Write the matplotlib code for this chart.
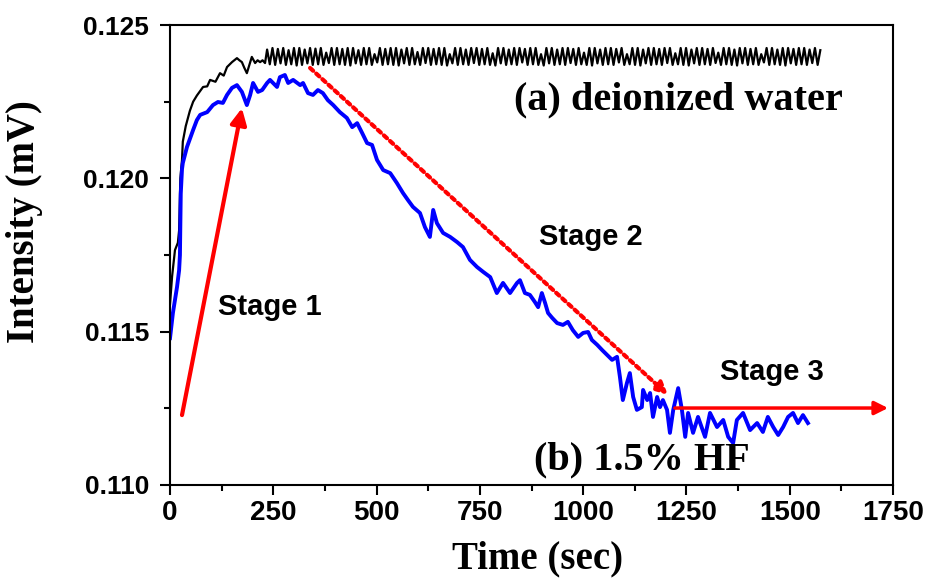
import numpy as np
import matplotlib
matplotlib.use("Agg")
import matplotlib.pyplot as plt
from matplotlib.ticker import MultipleLocator, FormatStrFormatter

# (b) 1.5% HF
blue_t = [0, 7, 17, 22, 24, 26, 29, 31, 41, 56, 65, 73, 90, 104, 116, 128, 138, 150, 162, 174,
          186, 194, 201, 213, 223, 235, 242, 259, 266, 278, 286, 298, 315, 322, 334, 346, 358, 370, 382, 395,
          411, 428, 441, 453, 465, 477, 489, 501, 516, 533, 549, 564, 576, 588, 605, 617, 629, 637, 646, 661,
          678, 695, 709, 726, 743, 758, 775, 791, 806, 823, 840, 847, 859, 871, 883, 891, 900, 908, 915, 925,
          937, 951, 963, 975, 988, 1000, 1012, 1021, 1034, 1046, 1058, 1070, 1082, 1089, 1096, 1106, 1113, 1121, 1130, 1142,
          1145, 1155, 1162, 1169, 1179, 1186, 1193, 1203, 1210, 1218, 1230, 1239, 1247, 1254, 1266, 1278, 1295, 1307, 1324, 1339,
          1351, 1363, 1372, 1387, 1404, 1421, 1435, 1447, 1460, 1472, 1484, 1496, 1508, 1520, 1532, 1544]
blue_v = [0.11479, 0.11561, 0.11646, 0.11700, 0.11750, 0.11950, 0.12030, 0.12050, 0.12102, 0.12158,
          0.12190, 0.12207, 0.12216, 0.12239, 0.12249, 0.12246, 0.12272, 0.12295, 0.12304, 0.12282,
          0.12239, 0.12272, 0.12311, 0.12282, 0.12288, 0.12311, 0.12321, 0.12298, 0.12330, 0.12337,
          0.12311, 0.12321, 0.12304, 0.12311, 0.12278, 0.12272, 0.12288, 0.12278, 0.12255, 0.12239,
          0.12216, 0.12197, 0.12167, 0.12180, 0.12148, 0.12115, 0.12109, 0.12060, 0.12027, 0.12017,
          0.11985, 0.11952, 0.11929, 0.11907, 0.11887, 0.11841, 0.11809, 0.11897, 0.11854, 0.11822,
          0.11809, 0.11792, 0.11776, 0.11734, 0.11711, 0.11695, 0.11678, 0.11626, 0.11659, 0.11626,
          0.11659, 0.11668, 0.11626, 0.11620, 0.11597, 0.11580, 0.11626, 0.11593, 0.11561, 0.11545,
          0.11528, 0.11522, 0.11532, 0.11505, 0.11483, 0.11496, 0.11499, 0.11473, 0.11457, 0.11440,
          0.11424, 0.11408, 0.11418, 0.11352, 0.11277, 0.11333, 0.11365, 0.11287, 0.11245, 0.11254,
          0.11310, 0.11277, 0.11300, 0.11222, 0.11287, 0.11254, 0.11277, 0.11245, 0.11170, 0.11245,
          0.11316, 0.11245, 0.11157, 0.11235, 0.11170, 0.11222, 0.11157, 0.11235, 0.11189, 0.11212,
          0.11157, 0.11137, 0.11212, 0.11235, 0.11179, 0.11202, 0.11173, 0.11222, 0.11189, 0.11163,
          0.11189, 0.11222, 0.11235, 0.11202, 0.11228, 0.11202]

# (a) deionized water, rising part
black_t = [0, 5, 12, 19, 22, 25, 29, 31, 38, 48, 56, 65, 73, 80, 90, 97, 110, 121, 130, 138,
           150, 162, 168, 174, 180, 186, 192, 198, 206, 212, 218, 224, 230]
black_v = [0.11590, 0.11680, 0.11766, 0.11790, 0.11830, 0.12000, 0.12060, 0.12120, 0.12170, 0.12220,
           0.12250, 0.12270, 0.12285, 0.12298, 0.12300, 0.12321, 0.12315, 0.12343, 0.12335, 0.12363,
           0.12379, 0.12392, 0.12385, 0.12379, 0.12360, 0.12343, 0.12370, 0.12396, 0.12376, 0.12385,
           0.12379, 0.12385, 0.12376]

# (a) deionized water, steady oscillation: peak / trough readings, sampled every 6.5 s from 235 s
osc_start = 235
osc_step = 6.5
black_peaks = [0.12420, 0.12425, 0.12422, 0.12425, 0.12418, 0.12425, 0.12425, 0.12420, 0.12425, 0.12423,
               0.12425, 0.12410, 0.12425, 0.12425, 0.12422, 0.12425, 0.12425, 0.12418, 0.12425, 0.12425,
               0.12405, 0.12425, 0.12422, 0.12425, 0.12425, 0.12420, 0.12425, 0.12425, 0.12412, 0.12425,
               0.12425, 0.12422, 0.12425, 0.12425, 0.12405, 0.12425, 0.12425, 0.12420, 0.12425, 0.12425,
               0.12422, 0.12425, 0.12408, 0.12425, 0.12425, 0.12420, 0.12425, 0.12425, 0.12422, 0.12425,
               0.12425, 0.12405, 0.12425, 0.12425, 0.12420, 0.12425, 0.12425, 0.12422, 0.12425, 0.12410,
               0.12425, 0.12425, 0.12420, 0.12425, 0.12425, 0.12422, 0.12425, 0.12405, 0.12425, 0.12425,
               0.12420, 0.12425, 0.12425, 0.12422, 0.12425, 0.12425, 0.12408, 0.12425, 0.12425, 0.12420,
               0.12425, 0.12425, 0.12422, 0.12425, 0.12410, 0.12425, 0.12425, 0.12420, 0.12425, 0.12425,
               0.12422, 0.12425, 0.12405, 0.12425, 0.12425, 0.12420, 0.12425, 0.12425, 0.12422, 0.12425,
               0.12425, 0.12420, 0.12425, 0.12418]
black_troughs = [0.12372, 0.12370, 0.12375, 0.12370, 0.12372, 0.12368, 0.12370, 0.12375, 0.12370, 0.12372,
                 0.12370, 0.12376, 0.12370, 0.12372, 0.12370, 0.12368, 0.12375, 0.12370, 0.12372, 0.12370,
                 0.12378, 0.12370, 0.12372, 0.12370, 0.12368, 0.12375, 0.12370, 0.12372, 0.12370, 0.12376,
                 0.12370, 0.12372, 0.12370, 0.12368, 0.12375, 0.12370, 0.12372, 0.12370, 0.12376, 0.12370,
                 0.12372, 0.12370, 0.12368, 0.12375, 0.12370, 0.12372, 0.12370, 0.12378, 0.12370, 0.12372,
                 0.12370, 0.12368, 0.12375, 0.12370, 0.12372, 0.12370, 0.12376, 0.12370, 0.12372, 0.12370,
                 0.12368, 0.12375, 0.12370, 0.12372, 0.12370, 0.12378, 0.12370, 0.12372, 0.12370, 0.12368,
                 0.12375, 0.12370, 0.12372, 0.12370, 0.12376, 0.12370, 0.12372, 0.12370, 0.12368, 0.12375,
                 0.12370, 0.12372, 0.12370, 0.12376, 0.12370, 0.12372, 0.12370, 0.12368, 0.12375, 0.12370,
                 0.12372, 0.12370, 0.12378, 0.12370, 0.12372, 0.12370, 0.12368, 0.12375, 0.12370, 0.12372,
                 0.12370, 0.12376, 0.12370]

osc_v = []
for i in range(len(black_peaks)):
    osc_v.append(black_peaks[i])
    if i < len(black_troughs):
        osc_v.append(black_troughs[i])
osc_t = osc_start + osc_step * np.arange(len(osc_v))
black_all_t = np.concatenate([black_t, osc_t])
black_all_v = np.concatenate([black_v, osc_v])

# stage arrows (start, end) in data units
stage1 = [(29, 0.11228), (174, 0.12229)]
stage2 = [(339, 0.12360), (1205, 0.11294)]
stage3 = [(1222, 0.11251), (1738, 0.11251)]

sans = 'Liberation Sans'
serif = 'Liberation Serif'

fig = plt.figure(figsize=(9.26, 5.78), dpi=100)
ax = fig.add_axes([0.1836, 0.1609, 0.7808, 0.7958])

ax.plot(black_all_t, black_all_v, color='black', lw=1.6)
ax.plot(blue_t, blue_v, color='#0000ff', lw=2.8)

red = '#ff0000'
ax.annotate('', xy=stage1[1], xytext=stage1[0],
            arrowprops=dict(arrowstyle='-|>', mutation_scale=24, lw=3, color=red,
                            shrinkA=0, shrinkB=0))
ax.annotate('', xy=stage2[1], xytext=stage2[0],
            arrowprops=dict(arrowstyle='-|>', mutation_scale=18, lw=3, color=red,
                            linestyle=(0, (1, 1)), shrinkA=0, shrinkB=0))
ax.annotate('', xy=stage3[1], xytext=stage3[0],
            arrowprops=dict(arrowstyle='-|>', mutation_scale=20, lw=2.5, color=red,
                            shrinkA=0, shrinkB=0))

ax.text(242, 0.11580, 'Stage 1', family=sans, weight='bold', fontsize=21, ha='center', va='center')
ax.text(1019, 0.11809, 'Stage 2', family=sans, weight='bold', fontsize=21, ha='center', va='center')
ax.text(1457, 0.11368, 'Stage 3', family=sans, weight='bold', fontsize=21, ha='center', va='center')
ax.text(1230, 0.12255, '(a) deionized water', family=serif, weight='bold', fontsize=29, ha='center', va='center')
ax.text(1142, 0.11082, '(b) 1.5% HF', family=serif, weight='bold', fontsize=29, ha='center', va='center')

ax.set_xlim(0, 1750)
ax.set_ylim(0.110, 0.125)
ax.xaxis.set_major_locator(MultipleLocator(250))
ax.xaxis.set_minor_locator(MultipleLocator(125))
ax.yaxis.set_major_locator(MultipleLocator(0.005))
ax.yaxis.set_minor_locator(MultipleLocator(0.0025))
ax.yaxis.set_major_formatter(FormatStrFormatter('%.3f'))

for s in ax.spines.values():
    s.set_linewidth(1.5)
ax.tick_params(which='both', direction='out', width=1.5, top=False, right=False)
ax.tick_params(which='major', length=7)
ax.tick_params(which='minor', length=4)
ax.tick_params(axis='y', which='major', pad=8)
ax.tick_params(axis='x', which='major', pad=4)
for lab in ax.get_xticklabels():
    lab.set_fontfamily(sans)
    lab.set_fontweight('bold')
    lab.set_fontsize(20)
for lab in ax.get_yticklabels():
    lab.set_fontfamily(sans)
    lab.set_fontweight('bold')
    lab.set_fontsize(19)

ax.set_xlabel('Time (sec)', family=serif, weight='bold', fontsize=28)
ax.set_ylabel('Intensity (mV)', family=serif, weight='bold', fontsize=28)
ax.xaxis.set_label_coords(0.508, -0.12)
ax.yaxis.set_label_coords(-0.175, 0.572)

fig.savefig('out.png', dpi=100)
